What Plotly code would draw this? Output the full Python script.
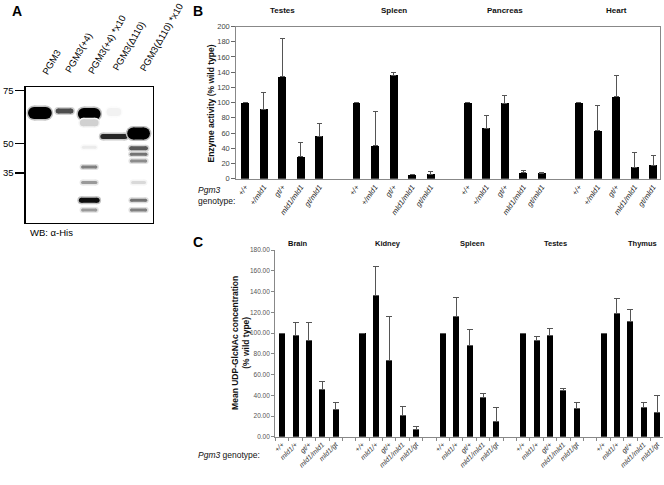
import plotly.graph_objects as go

W, H = 664, 485
FONT = "Liberation Sans, Arial, sans-serif"

# ---------------- Panel A (western blot) data ----------------
lane_labels = ["PGM3", "PGM3(+4)", "PGM3(+4) *x10", "PGM3(\u0394110)", "PGM3(\u0394110) *x10"]
mw_labels = ["75", "50", "35"]
mw_migration = [3, 57, 87]          # migration (px from gel top) of markers
band_lane = [1, 2, 3, 3, 3, 3, 3, 3, 3, 4, 4, 5, 5, 5, 5, 5, 5, 5]
band_migration = [26, 24, 27, 36, 61, 81, 97, 115, 125, 25, 50, 47, 62, 68, 75, 97, 115, 125]
band_intensity = [1.0, 0.7, 1.0, 0.18, 0.08, 0.5, 0.4, 0.95, 0.4, 0.05, 0.85, 1.0, 0.65, 0.55, 0.45, 0.15, 0.55, 0.5]
band_thickness = [12, 5, 12, 7, 3, 3, 3, 5, 3, 8, 5, 12, 4, 3, 3, 3, 3, 3]
band_halfwidth = [0.48, 0.36, 0.46, 0.38, 0.3, 0.33, 0.33, 0.42, 0.33, 0.3, 0.55, 0.46, 0.38, 0.36, 0.35, 0.3, 0.35, 0.35]

# ---------------- Panel B data ----------------
b_tissues = ["Testes", "Spleen", "Pancreas", "Heart"]
b_genotypes = ["+/+", "+/mld1", "gt/+", "mld1/mld1", "gt/mld1"]
b_testes = [100, 91, 134, 29, 56]
b_testes_err = [None, 22, 50, 19, 17]
b_spleen = [100, 43, 136, 5, 6]
b_spleen_err = [None, 46, 3, 1, 3]
b_pancreas = [100, 66, 99, 8, 7]
b_pancreas_err = [None, 17, 10, 3, 0.8]
b_heart = [100, 63, 108, 15, 18]
b_heart_err = [None, 33, 28, 20, 13]
b_values = [b_testes, b_spleen, b_pancreas, b_heart]
b_errors = [b_testes_err, b_spleen_err, b_pancreas_err, b_heart_err]
b_yticks = [0, 20, 40, 60, 80, 100, 120, 140, 160, 180, 200]

# ---------------- Panel C data ----------------
c_tissues = ["Brain", "Kidney", "Spleen", "Testes", "Thymus"]
c_genotypes = ["+/+", "mld1/+", "gt/+", "mld1/mld1", "mld1/gt"]
c_brain = [100, 98, 93, 45.5, 26]
c_brain_err = [None, 12, 17, 8, 7]
c_kidney = [100, 136, 73.5, 20.5, 7]
c_kidney_err = [None, 28.5, 42, 8.5, 3]
c_spleen = [100, 115.5, 88, 38, 15]
c_spleen_err = [None, 18.5, 15, 4, 13.5]
c_testes = [100, 92.5, 98, 44.5, 27]
c_testes_err = [None, 4.5, 6, 2.5, 6.5]
c_thymus = [100, 118.5, 111.5, 28.5, 23.5]
c_thymus_err = [None, 14.5, 11.5, 4.5, 16]
c_values = [c_brain, c_kidney, c_spleen, c_testes, c_thymus]
c_errors = [c_brain_err, c_kidney_err, c_spleen_err, c_testes_err, c_thymus_err]
c_yticks = [0, 20, 40, 60, 80, 100, 120, 140, 160, 180]


def px(x):
    return x / W


def py(y):
    return 1 - y / H


fig = go.Figure()

# ---------- Panel B bars ----------
SLOTS = 6
bx, by, be, btxt = [], [], [], []
for g, tissue in enumerate(b_tissues):
    for i, gen in enumerate(b_genotypes):
        bx.append(g * SLOTS + i)
        by.append(b_values[g][i])
        be.append(b_errors[g][i])
        btxt.append("<i>%s</i>" % gen)
fig.add_trace(go.Bar(
    x=bx, y=by, width=0.43, marker=dict(color="black", line=dict(width=0)),
    error_y=dict(type="data", array=be, arrayminus=[0] * len(be), symmetric=False,
                 color="#555555", thickness=1, width=2.5),
    xaxis="x", yaxis="y", showlegend=False, hoverinfo="skip"))

# ---------- Panel C bars ----------
cx, cy, ce, ctxt = [], [], [], []
for g, tissue in enumerate(c_tissues):
    for i, gen in enumerate(c_genotypes):
        cx.append(g * SLOTS + i)
        cy.append(c_values[g][i])
        ce.append(c_errors[g][i])
        ctxt.append("<i>%s</i>" % gen)
fig.add_trace(go.Bar(
    x=cx, y=cy, width=0.45, marker=dict(color="black", line=dict(width=0)),
    error_y=dict(type="data", array=ce, arrayminus=[0] * len(ce), symmetric=False,
                 color="#555555", thickness=1, width=3),
    xaxis="x2", yaxis="y2", showlegend=False, hoverinfo="skip"))

# ---------- Panel A bands (rounded "stadium" bands: thick line + round end markers) ----------
A_X0, A_X1 = 24, 151
A_RANGE = [0.434, 5.566]
px_per_lane = (A_X1 - A_X0) / (A_RANGE[1] - A_RANGE[0])


def add_band(lane, mig, hw, th, gray):
    r = (th / 2) / px_per_lane
    xa, xb = lane - hw + r, lane + hw - r
    if xb < xa:
        xa = xb = lane
    col = "rgb(%d,%d,%d)" % (gray, gray, gray)
    fig.add_trace(go.Scatter(
        x=[xa, xb], y=[mig, mig], mode="lines+markers",
        line=dict(color=col, width=th),
        marker=dict(color=col, size=th, line=dict(width=0)),
        xaxis="x3", yaxis="y3", showlegend=False, hoverinfo="skip", cliponaxis=True))


for lane, mig, inten, th, hw in zip(band_lane, band_migration, band_intensity,
                                    band_thickness, band_halfwidth):
    halo = int(round(255 * (1 - inten * 0.25)))
    core = int(round(255 * (1 - inten)))
    add_band(lane, mig, hw + 1.5 / px_per_lane, th + 3, halo)
    add_band(lane, mig, hw, th, core)

annotations = []
# panel letters
for letter, xx, yy in [("A", 8, 7), ("B", 190, 7), ("C", 190, 242)]:
    annotations.append(dict(text="<b>%s</b>" % letter, x=px(xx), y=py(yy), xref="paper",
                            yref="paper", xanchor="left", yanchor="middle", showarrow=False,
                            font=dict(family=FONT, size=14, color="black")))

# lane labels (A)
lane_label_pos = [(35, 77), (58, 74), (81, 76), (106, 72), (133, 73)]
for lbl, (lx, ly) in zip(lane_labels, lane_label_pos):
    annotations.append(dict(text=lbl, x=px(lx), y=py(ly), xref="paper", yref="paper",
                            xanchor="left", yanchor="bottom", textangle=-60, showarrow=False,
                            font=dict(family=FONT, size=9.5, color="black")))
annotations.append(dict(text="WB: \u03b1-His", x=px(26), y=py(233), xref="paper", yref="paper",
                        xanchor="left", yanchor="middle", showarrow=False,
                        font=dict(family=FONT, size=9.5, color="black")))

# B subtitles
for g, t in enumerate(b_tissues):
    annotations.append(dict(text="<b>%s</b>" % t, x=g * SLOTS + 2, y=py(7), xref="x", yref="paper",
                            xanchor="center", yanchor="middle", showarrow=False,
                            font=dict(family=FONT, size=8, color="#111")))
annotations.append(dict(text="<b>Enzyme activity (% wild type)</b>", x=px(210), y=py(101),
                        xref="paper", yref="paper", textangle=-90, showarrow=False,
                        xanchor="center", yanchor="middle",
                        font=dict(family=FONT, size=8.5, color="#111")))
annotations.append(dict(text="<i>Pgm3</i><br>genotype:", x=px(195), y=py(195.5), xref="paper",
                        yref="paper", xanchor="left", yanchor="middle", align="left",
                        showarrow=False, font=dict(family=FONT, size=8.5, color="#111")))

# C subtitles
c_title_px = [297, 387, 472, 555, 642]
for t, xx in zip(c_tissues, c_title_px):
    annotations.append(dict(text="<b>%s</b>" % t, x=px(xx), y=py(244), xref="paper", yref="paper",
                            xanchor="center", yanchor="middle", showarrow=False,
                            font=dict(family=FONT, size=7.5, color="#111")))
annotations.append(dict(text="<b>Mean UDP-GlcNAc concentration<br>(% wild type)</b>",
                        x=px(239), y=py(345), xref="paper", yref="paper", textangle=-90,
                        showarrow=False, xanchor="center", yanchor="middle",
                        font=dict(family=FONT, size=8.5, color="#111")))
annotations.append(dict(text="<i>Pgm3</i> genotype:", x=px(195), y=py(460), xref="paper",
                        yref="paper", xanchor="left", yanchor="middle", showarrow=False,
                        font=dict(family=FONT, size=8.5, color="#111")))

fig.update_layout(
    width=W, height=H, autosize=False,
    margin=dict(l=0, r=0, t=0, b=0),
    paper_bgcolor="white", plot_bgcolor="white",
    showlegend=False,
    bargap=0,
    hovermode=False,
    annotations=annotations,
    xaxis=dict(domain=[px(235), px(660)], range=[-0.484, 22.37], tickmode="array",
               tickvals=bx, ticktext=btxt, tickangle=-55, ticks="", showgrid=False,
               zeroline=False, showline=True, linecolor="#888", linewidth=1, mirror=True,
               tickfont=dict(family=FONT, size=7.5, color="#222"), anchor="y"),
    yaxis=dict(domain=[py(178), py(23)], range=[0, 200], tickmode="array", tickvals=b_yticks,
               ticks="outside", ticklen=4, tickcolor="#666", showgrid=False, zeroline=False,
               showline=True, linecolor="#888", linewidth=1, mirror=True,
               tickfont=dict(family=FONT, size=7.5, color="#444"), anchor="x"),
    xaxis2=dict(domain=[px(274), px(663)], range=[-0.52, 28.44], tickmode="array",
                tickvals=cx, ticktext=ctxt, tickangle=-45, ticks="", showgrid=False,
                zeroline=False, showline=True, linecolor="#888", linewidth=1,
                minor=dict(tickmode="linear", tick0=-0.5, dtick=1, ticks="outside", ticklen=3,
                           tickcolor="#888", showgrid=False),
                tickfont=dict(family=FONT, size=7, color="#333"), anchor="y2"),
    yaxis2=dict(domain=[py(441), py(250.7)], range=[0, 180], tickmode="array",
                tickvals=c_yticks, tickformat=".2f", ticks="outside", ticklen=3,
                tickcolor="#888", showgrid=False, zeroline=False, showline=True,
                linecolor="#888", linewidth=1,
                tickfont=dict(family=FONT, size=6.5, color="#555"), anchor="x2"),
    xaxis3=dict(domain=[px(A_X0), px(A_X1)], range=A_RANGE, showticklabels=False, ticks="",
                showgrid=False, zeroline=False, showline=True, linecolor="black", linewidth=1.5,
                mirror=True, anchor="y3"),
    yaxis3=dict(domain=[py(223), py(85)], range=[138, 0], tickmode="array",
                tickvals=mw_migration, ticktext=mw_labels, ticks="outside", ticklen=9,
                tickwidth=1.5, tickcolor="black", showgrid=False, zeroline=False,
                showline=True, linecolor="black", linewidth=1.5, mirror=True,
                tickfont=dict(family=FONT, size=9.5, color="black"), anchor="x3"),
)

fig.write_html("out.html",
               config={"displayModeBar": False, "staticPlot": True},
               post_script="document.body.style.margin='0px';"
                           "document.body.style.overflow='hidden';")
